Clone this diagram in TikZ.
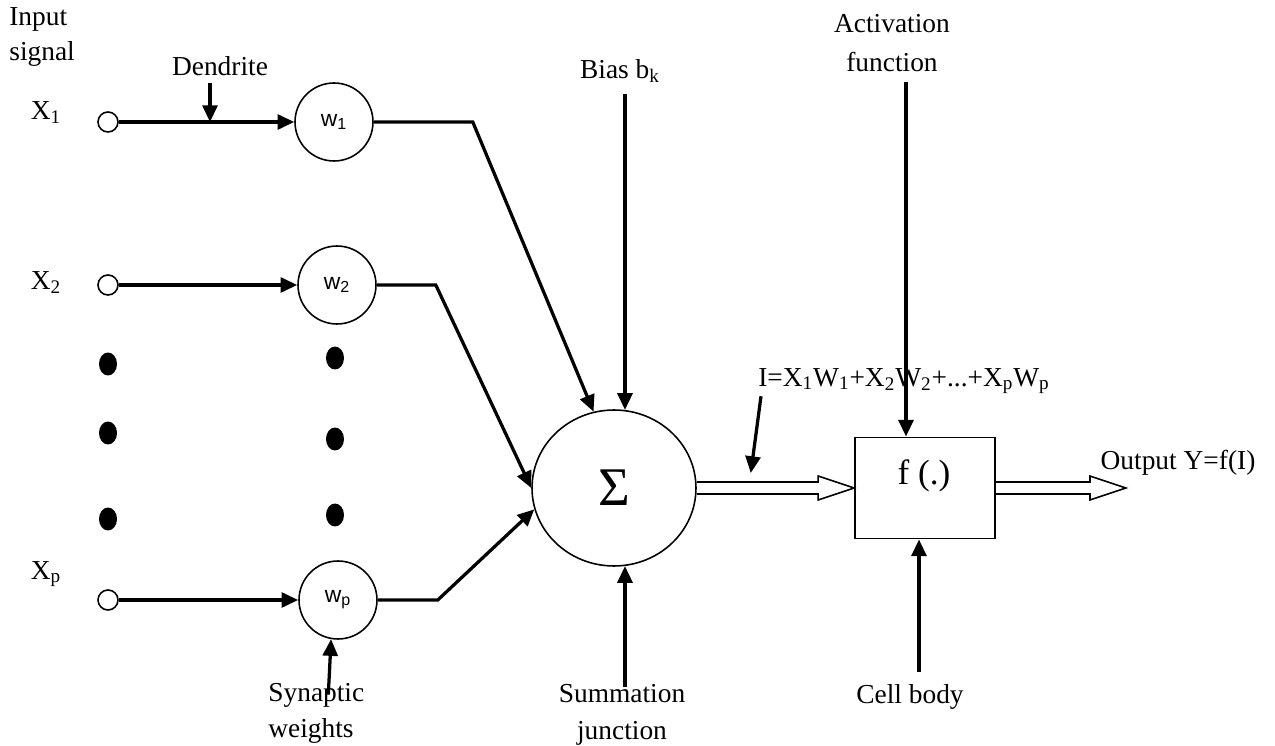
\documentclass[tikz,border=0pt]{standalone}
\usepackage{fontspec}
\setmainfont{Liberation Serif}
\newfontfamily\wsans{Liberation Sans}
\usetikzlibrary{arrows.meta, positioning, calc, shapes.geometric}

\begin{document}
\begin{tikzpicture}[x=0.02cm, y=-0.02cm,
    >={Triangle[length=9.5pt, width=8.5pt]},
    txt/.style={inner sep=0pt, font=\fontsize{15.6}{21}\selectfont},
    port/.style={draw, circle, line width=0.9pt, minimum size=0.4cm, inner sep=0pt},
    wcirc/.style={draw, circle, line width=0.9pt, minimum size=1.56cm, inner sep=0pt, font=\wsans\fontsize{13}{13}\selectfont},
    arr/.style={->, line width=1.85pt},
    hollow/.style={line width=0.9pt, to path={
      ($(\tikztostart)+(0,-6)$) -- ($(\tikztotarget)+(-36,-6)$) -- ($(\tikztotarget)+(-36,-12)$)
      -- (\tikztotarget) -- ($(\tikztotarget)+(-36,12)$) -- ($(\tikztotarget)+(-36,6)$) -- ($(\tikztostart)+(0,6)$)}}]
  \useasboundingbox (0,0) rectangle (1275,746);

  % inputs and weights
  \node[txt, anchor=west, align=left, font=\fontsize{15.6}{19.4}\selectfont] (inlab) at (9,37) {Input\\signal};
  \node[txt] (x1lab) at (46,113) {X\textsubscript{1}};
  \node[txt] (x2lab) at (46,283) {X\textsubscript{2}};
  \node[txt] (xplab) at (46,574) {X\textsubscript{p}};
  \node[port] (in1) at (108,122) {};
  \node[port] (in2) at (108,285) {};
  \node[port] (inp) at (108,600) {};
  \node[wcirc] (w1) at (334,122) {w\textsubscript{1}};
  \node[wcirc] (w2) at (337,285) {w\textsubscript{2}};
  \node[wcirc] (wp) at (338,600) {w\textsubscript{p}};
  \foreach \y in {364,433,519} \fill (108,\y) ellipse [x radius=0.18cm, y radius=0.23cm];
  \foreach \y in {358,439,515} \fill (335,\y) ellipse [x radius=0.18cm, y radius=0.23cm];

  % summation and activation
  \node[draw, ellipse, line width=0.9pt, minimum width=3.28cm, minimum height=3.12cm, inner sep=0pt,
        font=\fontsize{31}{31}\selectfont] (sum) at (614,488) {Σ};
  \node[draw, line width=1.1pt, minimum width=2.8cm, minimum height=2.02cm, inner sep=0pt] (act) at (925,488) {};
  \node[txt, font=\fontsize{20}{20}\selectfont] (fdot) at ($(act.center)+(-1,-12)$) {f (.)};
  \coordinate (outtip) at ($(act.east)+(130,0)$);

  % labels
  \node[txt] (dend) at (220,66) {Dendrite};
  \node[txt] (bias) at (620,71) {Bias b\textsubscript{k}};
  \node[txt, align=center, font=\fontsize{15.6}{22.2}\selectfont] (actlab) at (892,43) {Activation\\function};
  \node[txt] (ilab) at (904,381) {I=X\textsubscript{1}W\textsubscript{1}+X\textsubscript{2}W\textsubscript{2}+...+X\textsubscript{p}W\textsubscript{p}};
  \node[txt] (outlab) at (1178,463) {Output Y=f(I)};
  \node[txt, anchor=west, align=left, font=\fontsize{15.6}{20.5}\selectfont] (synlab) at (268,713) {Synaptic\\weights};
  \node[txt, align=center] (sumlab) at (622,715) {Summation\\junction};
  \node[txt] (celllab) at (910,697) {Cell body};

  % connectors
  \draw[arr] (in1) -- (w1);
  \draw[arr] (in2) -- (w2);
  \draw[arr] (inp) -- (wp);
  \draw[arr] (w1.east) -- ++(99,0) -- (sum.105);
  \draw[arr] (w2.east) -- ++(59,0) -- (sum.west);
  \draw[arr] (wp.east) -- ++(60,0) -- (sum.195);
  \draw[hollow] (sum.east) to (act.west);
  \draw[hollow] (act.east) to (outtip);
  \draw[arr] ($(dend.south)+(-10,7)$) coordinate (dtop) -- (dtop |- in1);
  \draw[arr] ($(bias.south -| sum.82)+(0,11)$) -- (sum.82);
  \draw[arr] ($(actlab.south)+(14,10)$) -- ($(act.north)+(-19,0)$);
  \draw[arr] ($(ilab.south)+(-143,2)$) -- ($(sum.east)+(54,-15)$);
  \draw[arr] ($(synlab.north)+(12,12)$) -- (wp.260);
  \draw[arr] ($(sumlab.north -| sum.278)+(0,3)$) -- (sum.278);
  \draw[arr] ($(celllab.north)+(9,-12)$) -- ($(act.south)+(-6,0)$);
\end{tikzpicture}
\end{document}
